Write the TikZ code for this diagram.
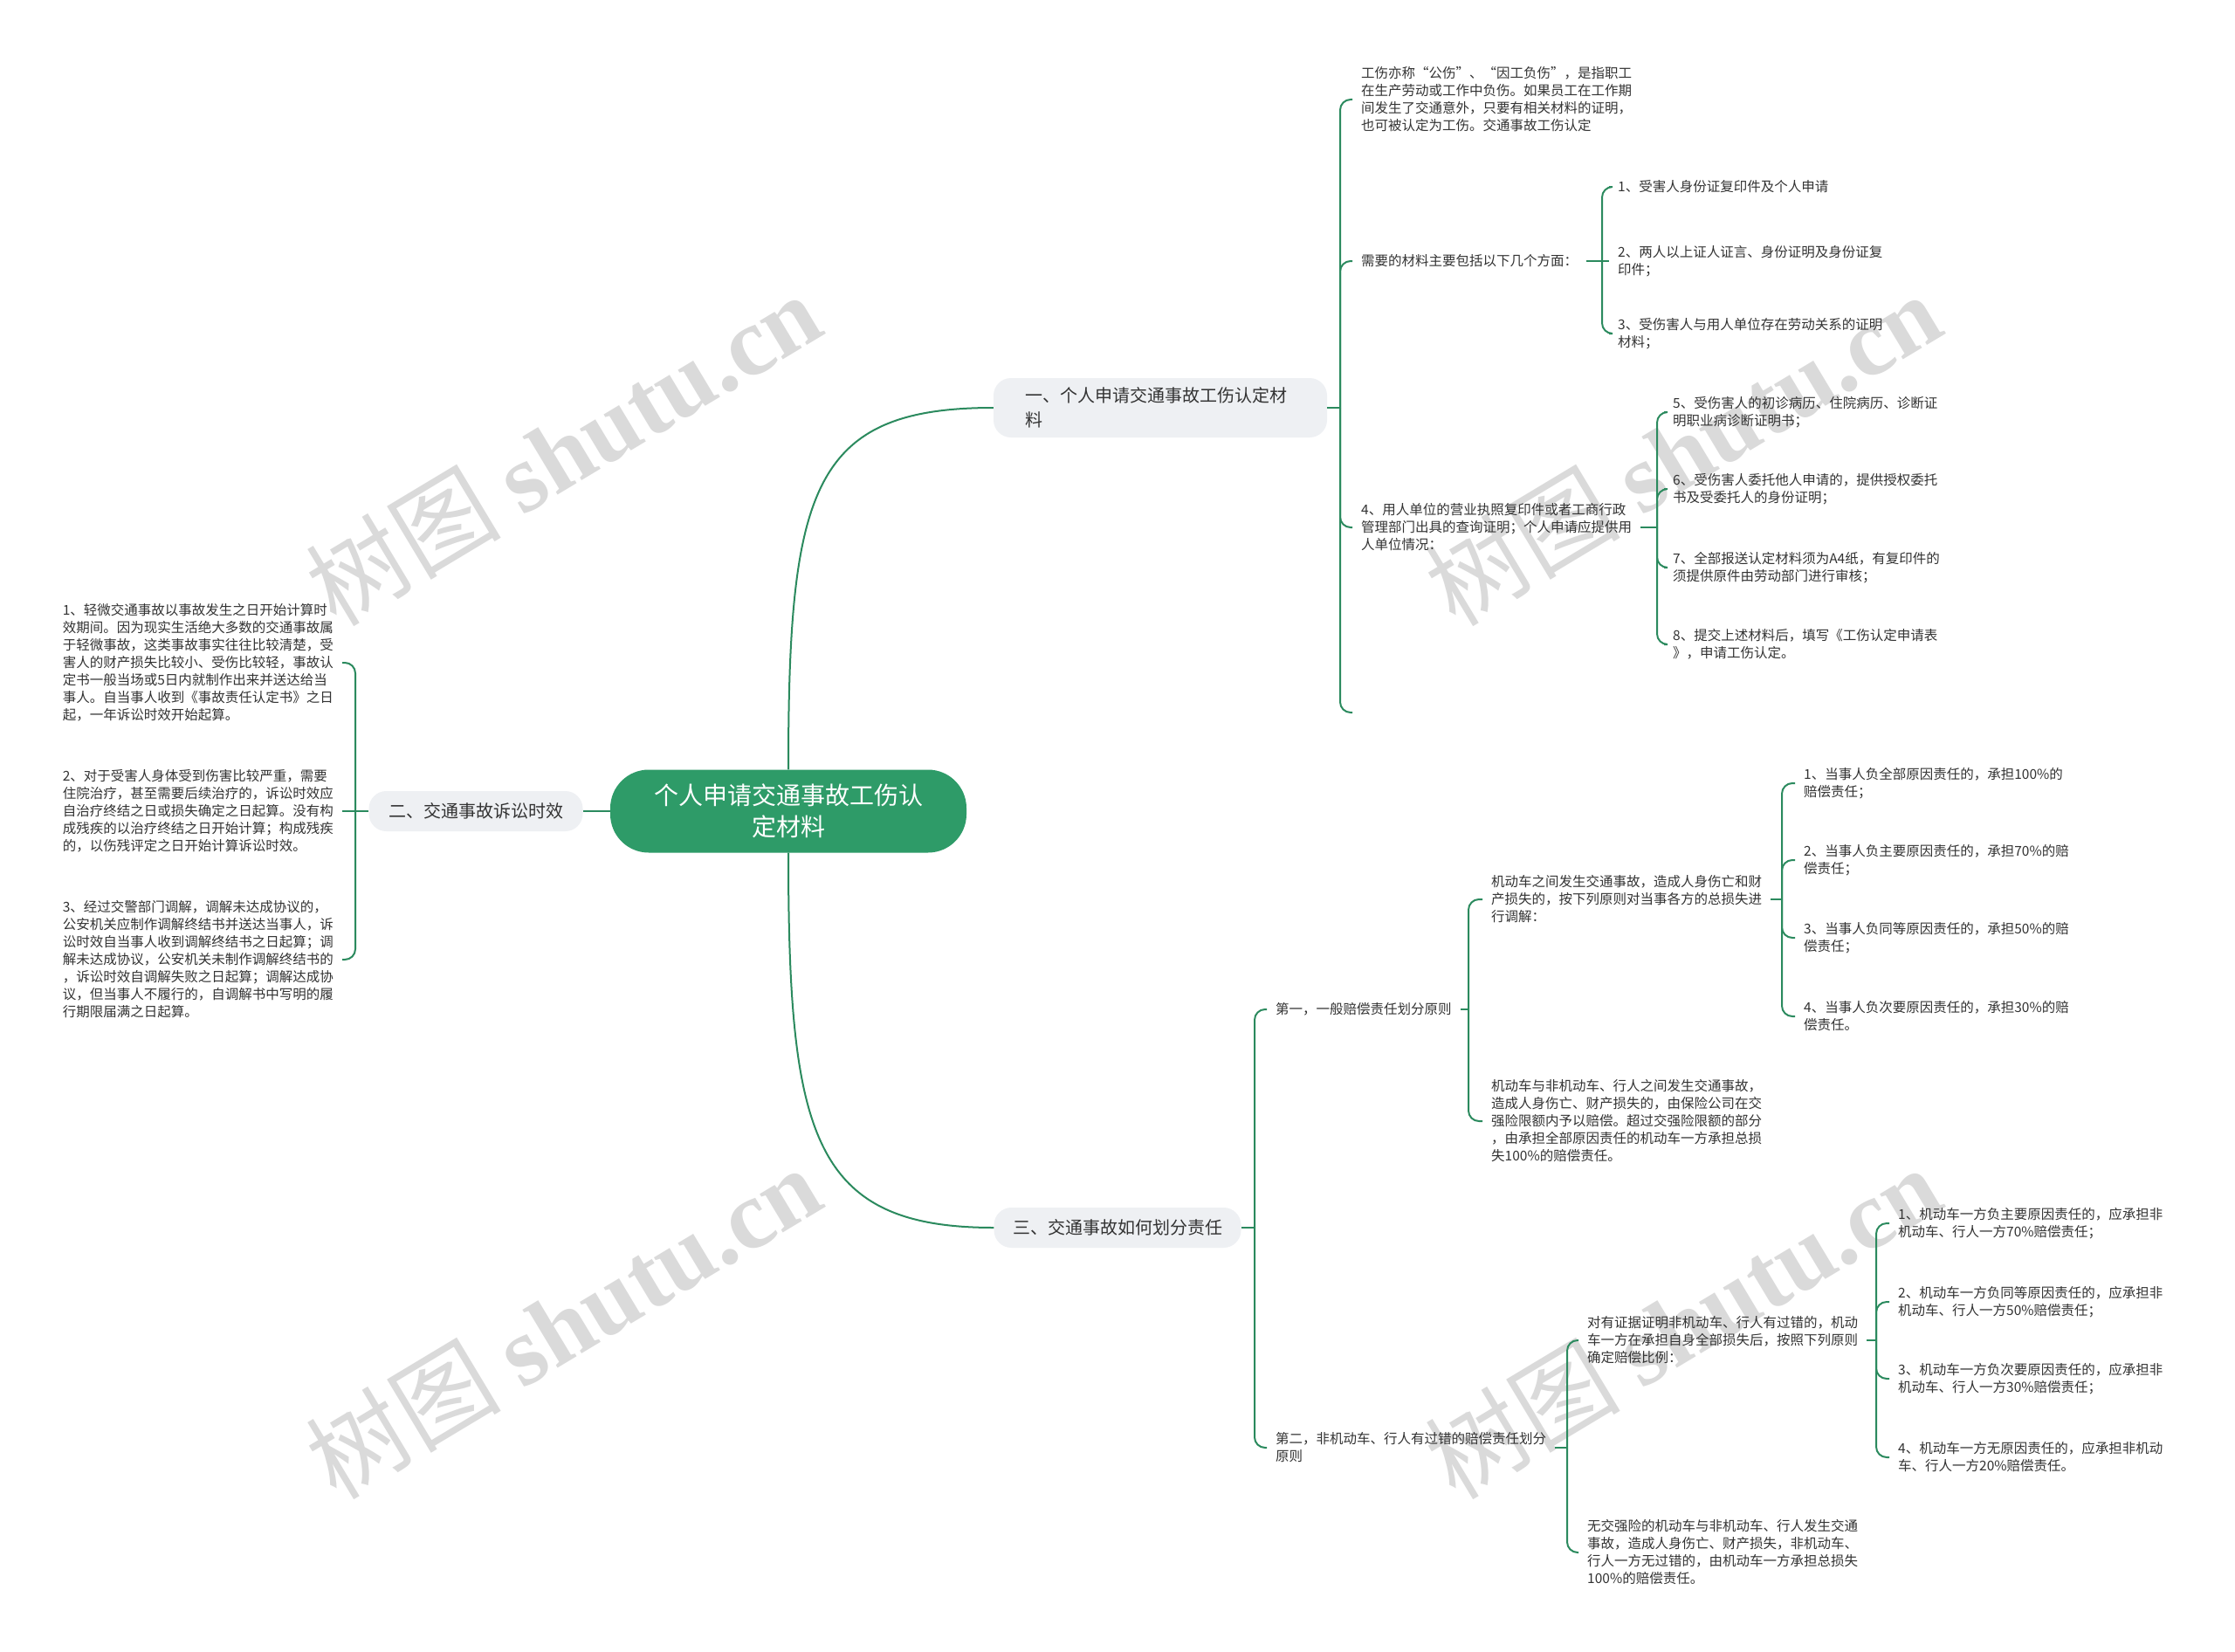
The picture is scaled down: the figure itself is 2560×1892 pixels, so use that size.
\documentclass[tikz,border=0pt]{standalone}
\usepackage{fontspec}
\setmainfont{Noto Sans CJK SC}
\newfontfamily\markserif{Liberation Serif}
\usetikzlibrary{calc}
\definecolor{mmgreen}{HTML}{2E9B68}
\definecolor{mmline}{HTML}{2B8A5E}
\definecolor{mmbox}{HTML}{EEF0F3}
\definecolor{mmtext}{HTML}{333333}
\definecolor{mmmark}{HTML}{DADADA}
\newcommand{\leafsize}{\fontsize{15.5}{20}\selectfont}

\begin{document}
\begin{tikzpicture}[x=1pt, y=-1pt,
    link/.style={line width=2pt, mmline, rounded corners=12pt},
    hub/.style={fill=mmgreen, text=white, rounded corners=44pt, minimum width=408pt,
      minimum height=95pt, align=center, font=\fontsize{28}{36}\selectfont},
    topic/.style={fill=mmbox, text=mmtext, rounded corners=20pt, minimum height=46pt,
      font=\fontsize{20}{28}\selectfont},
    leaf/.style={text=mmtext, align=left, inner xsep=10pt, inner ysep=2pt, anchor=west,
      font=\leafsize},
    leftleaf/.style={leaf, anchor=east},
    stamp/.style={text=mmmark, rotate=31, font=\fontsize{112}{112}\selectfont}]
  \path[use as bounding box, fill=white] (0,0) rectangle (2560,1892);

  \node[stamp] (stamp1) at (645,514) {树图 {\markserif\bfseries shutu.cn}};
  \node[stamp] (stamp2) at (645,1514) {树图 {\markserif\bfseries shutu.cn}};
  \node[stamp] (stamp3) at (1927,514) {树图 {\markserif\bfseries shutu.cn}};
  \node[stamp] (stamp4) at (1927,1514) {树图 {\markserif\bfseries shutu.cn}};

  \node[hub] (root) at (903,929) {个人申请交通事故工伤认\\定材料};
  \node[topic, minimum width=382pt, text width=310pt, align=left, minimum height=68pt] (matl) at (1329,467) {一、个人申请交通事故工伤认定材\\料};
  \node[topic, minimum width=245pt] (lim) at (545,929) {二、交通事故诉讼时效};
  \node[topic, minimum width=283pt] (resp) at (1280,1406) {三、交通事故如何划分责任};

  \draw[link] (root.north) .. controls (903,560) and (930,467) .. (matl.west);
  \draw[link] (root.south) .. controls (903,1300) and (930,1406) .. (resp.west);
  \draw[link] (root.west) -- (lim.east);

  \node[leaf] (def) at (1549,114) {工伤亦称“公伤”、“因工负伤”，是指职工\\在生产劳动或工作中负伤。如果员工在工作期\\间发生了交通意外，只要有相关材料的证明，\\也可被认定为工伤。交通事故工伤认定};
  \node[leaf] (need) at (1549,299) {需要的材料主要包括以下几个方面：};
  \node[leaf] (n1) at (1843,214) {1、受害人身份证复印件及个人申请};
  \node[leaf] (n2) at (1843,299) {2、两人以上证人证言、身份证明及身份证复\\印件；};
  \node[leaf] (n3) at (1843,382) {3、受伤害人与用人单位存在劳动关系的证明\\材料；};
  \node[leaf] (unit) at (1549,604) {4、用人单位的营业执照复印件或者工商行政\\管理部门出具的查询证明；个人申请应提供用\\人单位情况：};
  \node[leaf] (u5) at (1906,472) {5、受伤害人的初诊病历、住院病历、诊断证\\明职业病诊断证明书；};
  \node[leaf] (u6) at (1906,560) {6、受伤害人委托他人申请的，提供授权委托\\书及受委托人的身份证明；};
  \node[leaf] (u7) at (1906,650) {7、全部报送认定材料须为A4纸，有复印件的\\须提供原件由劳动部门进行审核；};
  \node[leaf] (u8) at (1906,738) {8、提交上述材料后，填写《工伤认定申请表\\》，申请工伤认定。};
  \coordinate (mend) at (1549,816);

  \coordinate (jm) at (1535,467);
  \draw[link] (matl.east) -- (jm);
  \draw[link] (jm) |- (def.west);
  \draw[link] (jm) |- (need.west);
  \draw[link] (jm) |- (unit.west);
  \draw[link] (jm) |- (mend);
  \coordinate (jn) at (1835,299);
  \draw[link] (need.east) -- (jn);
  \draw[link] (jn) |- (n1.west);
  \draw[link] (jn) -- (n2.west);
  \draw[link] (jn) |- (n3.west);
  \coordinate (ju) at (1898,604);
  \draw[link] (unit.east) -- (ju);
  \draw[link] (ju) |- (u5.west);
  \draw[link] (ju) |- (u6.west);
  \draw[link] (ju) |- (u7.west);
  \draw[link] (ju) |- (u8.west);

  \node[leftleaf] (lim1) at (392,759) {1、轻微交通事故以事故发生之日开始计算时\\效期间。因为现实生活绝大多数的交通事故属\\于轻微事故，这类事故事实往往比较清楚，受\\害人的财产损失比较小、受伤比较轻，事故认\\定书一般当场或5日内就制作出来并送达给当\\事人。自当事人收到《事故责任认定书》之日\\起，一年诉讼时效开始起算。};
  \node[leftleaf] (lim2) at (392,929) {2、对于受害人身体受到伤害比较严重，需要\\住院治疗，甚至需要后续治疗的，诉讼时效应\\自治疗终结之日或损失确定之日起算。没有构\\成残疾的以治疗终结之日开始计算；构成残疾\\的，以伤残评定之日开始计算诉讼时效。};
  \node[leftleaf] (lim3) at (392,1099) {3、经过交警部门调解，调解未达成协议的，\\公安机关应制作调解终结书并送达当事人，诉\\讼时效自当事人收到调解终结书之日起算；调\\解未达成协议，公安机关未制作调解终结书的\\，诉讼时效自调解失败之日起算；调解达成协\\议，但当事人不履行的，自调解书中写明的履\\行期限届满之日起算。};

  \coordinate (jl) at (407,929);
  \draw[link] (lim.west) -- (jl);
  \draw[link] (jl) |- (lim1.east);
  \draw[link] (jl) -- (lim2.east);
  \draw[link] (jl) |- (lim3.east);

  \node[leaf] (gen) at (1451,1156) {第一，一般赔偿责任划分原则};
  \node[leaf] (gen1) at (1698,1030) {机动车之间发生交通事故，造成人身伤亡和财\\产损失的，按下列原则对当事各方的总损失进\\行调解：};
  \node[leaf] (g1) at (2056,897) {1、当事人负全部原因责任的，承担100\%的\\赔偿责任；};
  \node[leaf] (g2) at (2056,985) {2、当事人负主要原因责任的，承担70\%的赔\\偿责任；};
  \node[leaf] (g3) at (2056,1074) {3、当事人负同等原因责任的，承担50\%的赔\\偿责任；};
  \node[leaf] (g4) at (2056,1164) {4、当事人负次要原因责任的，承担30\%的赔\\偿责任。};
  \node[leaf] (gen2) at (1698,1284) {机动车与非机动车、行人之间发生交通事故，\\造成人身伤亡、财产损失的，由保险公司在交\\强险限额内予以赔偿。超过交强险限额的部分\\，由承担全部原因责任的机动车一方承担总损\\失100\%的赔偿责任。};
  \node[leaf] (fault) at (1451,1658) {第二，非机动车、行人有过错的赔偿责任划分\\原则};
  \node[leaf] (fault1) at (1808,1535) {对有证据证明非机动车、行人有过错的，机动\\车一方在承担自身全部损失后，按照下列原则\\确定赔偿比例：};
  \node[leaf] (f1) at (2164,1401) {1、机动车一方负主要原因责任的，应承担非\\机动车、行人一方70\%赔偿责任；};
  \node[leaf] (f2) at (2164,1491) {2、机动车一方负同等原因责任的，应承担非\\机动车、行人一方50\%赔偿责任；};
  \node[leaf] (f3) at (2164,1579) {3、机动车一方负次要原因责任的，应承担非\\机动车、行人一方30\%赔偿责任；};
  \node[leaf] (f4) at (2164,1669) {4、机动车一方无原因责任的，应承担非机动\\车、行人一方20\%赔偿责任。};
  \node[leaf] (fault2) at (1808,1778) {无交强险的机动车与非机动车、行人发生交通\\事故，造成人身伤亡、财产损失，非机动车、\\行人一方无过错的，由机动车一方承担总损失\\100\%的赔偿责任。};

  \coordinate (jr) at (1437,1406);
  \draw[link] (resp.east) -- (jr);
  \draw[link] (jr) |- (gen.west);
  \draw[link] (jr) |- (fault.west);
  \coordinate (jg) at (1682,1156);
  \draw[link] (gen.east) -- (jg);
  \draw[link] (jg) |- (gen1.west);
  \draw[link] (jg) |- (gen2.west);
  \coordinate (jg1) at (2041,1030);
  \draw[link] (gen1.east) -- (jg1);
  \draw[link] (jg1) |- (g1.west);
  \draw[link] (jg1) |- (g2.west);
  \draw[link] (jg1) |- (g3.west);
  \draw[link] (jg1) |- (g4.west);
  \coordinate (jf) at (1795,1658);
  \draw[link] (fault.east) -- (jf);
  \draw[link] (jf) |- (fault1.west);
  \draw[link] (jf) |- (fault2.west);
  \coordinate (jf1) at (2149,1535);
  \draw[link] (fault1.east) -- (jf1);
  \draw[link] (jf1) |- (f1.west);
  \draw[link] (jf1) |- (f2.west);
  \draw[link] (jf1) |- (f3.west);
  \draw[link] (jf1) |- (f4.west);
\end{tikzpicture}
\end{document}
